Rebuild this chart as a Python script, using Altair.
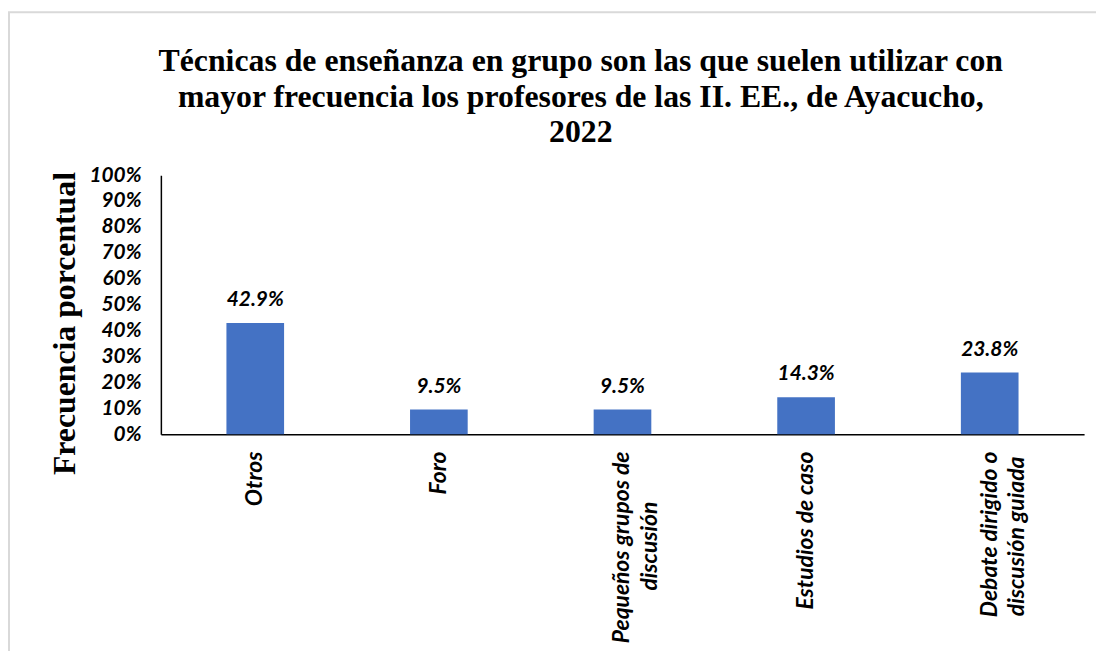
import altair as alt
import pandas as pd
import json

categories = ["Otros", "Foro", "Pequeños grupos de|discusión", "Estudios de caso", "Debate dirigido o|discusión guiada"]
values = [0.429, 0.095, 0.095, 0.143, 0.238]
value_labels = ["42.9%", "9.5%", "9.5%", "14.3%", "23.8%"]
y_ticks = [0, 0.1, 0.2, 0.3, 0.4, 0.5, 0.6, 0.7, 0.8, 0.9, 1.0]

df = pd.DataFrame({"cat": categories, "val": values, "lbl": value_labels})

# centre the second line of wrapped labels under the first
# (non-breaking spaces, closed by a zero-width space so they are not trimmed)
NBSP = "\u00a0"
ZWSP = "\u200b"
second_line_pad = {categories[2]: 10, categories[4]: 1}
expr = "split(datum.label, '|')"
for cat, n in second_line_pad.items():
    first, second = cat.split("|")
    lines = json.dumps([first, second + NBSP * n + ZWSP], ensure_ascii=False)
    key = json.dumps(first, ensure_ascii=False)
    expr = f"indexof(datum.label, {key}) >= 0 ? {lines} : ({expr})"

x_enc = alt.X(
    "cat:N", sort=categories,
    scale=alt.Scale(paddingInner=0.686, paddingOuter=0.357),
    axis=alt.Axis(
        title=None, labelAngle=-90, labelAlign="right", labelBaseline="middle",
        labelExpr=expr, labelFont="Lato",
        labelFontSize=23, labelFontWeight="bold", labelFontStyle="italic",
        labelLineHeight=28, labelColor="black", labelPadding=17,
        ticks=False, domainColor="black", domainWidth=1.5, labelLimit=400,
    ),
)
y_enc = alt.Y(
    "val:Q", scale=alt.Scale(domain=[0, 1]),
    axis=alt.Axis(
        values=y_ticks, format=".0%", grid=False, ticks=False,
        labelFont="Lato", labelFontSize=21, labelFontWeight="bold",
        labelFontStyle="italic", labelColor="black", labelPadding=20,
        labelOverlap=False, labelSeparation=0,
        domainColor="black", domainWidth=1.5,
        title="Frecuencia porcentual", titleFont="Liberation Serif",
        titleFontSize=32, titleFontWeight="bold", titleColor="black",
        titleAngle=-90, titleX=-97, titleY=149, titleAlign="center",
        titleBaseline="middle",
    ),
)

bars = alt.Chart(df).mark_bar(color="#4472C4").encode(x=x_enc, y=y_enc)
text = alt.Chart(df).mark_text(
    baseline="bottom", dy=-13, font="Lato", fontSize=21,
    fontWeight="bold", fontStyle="italic", color="black",
).encode(x=x_enc, y=y_enc, text="lbl:N")

frame = alt.Chart(pd.DataFrame({"a": [0]})).mark_rect(
    fill=None, stroke="#d9d9d9", strokeWidth=2
).encode(
    x=alt.value(-153), x2=alt.value(960), y=alt.value(-164), y2=alt.value(500)
)

chart = alt.layer(frame, bars, text).properties(
    width=930, height=261,
    title=alt.TitleParams(
        ["Técnicas de enseñanza en grupo son las que suelen utilizar con",
         "mayor frecuencia los profesores de las II. EE., de Ayacucho,",
         "2022"],
        font="Liberation Serif", fontSize=32, fontWeight="bold", color="black",
        lineHeight=36, anchor="middle", dx=-42, offset=-139,
    ),
    padding={"left": 154, "top": 166, "right": 12, "bottom": 216},
    autosize=alt.AutoSizeParams(type="none"),
).configure_view(stroke=None)

chart.save("out.html", embed_options={"renderer": "svg", "actions": False})
